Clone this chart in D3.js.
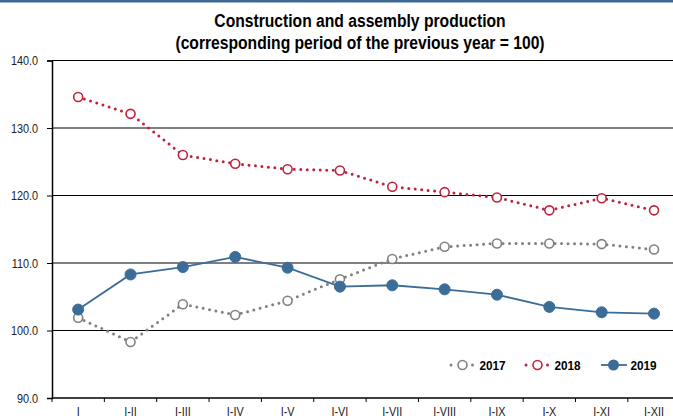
<!DOCTYPE html>
<html>

<head>
    <style>
        body { margin: 0; background: #fff; }
        #chart text { font-family: "Liberation Sans Narrow", "Arial Narrow", "Liberation Sans", sans-serif; }
    </style>
</head>

<body>
    <script src="https://d3js.org/d3.v7.min.js"></script>
    <div id="chart"></div>
    <script>
        const width = 673
        const height = 419

        const periods = ["I", "I-II", "I-III", "I-IV", "I-V", "I-VI", "I-VII", "I-VIII", "I-IX", "I-X", "I-XI", "I-XII"]
        const values2017 = [101.9, 98.3, 103.9, 102.3, 104.4, 107.6, 110.6, 112.4, 112.9, 112.9, 112.8, 112.0]
        const values2018 = [134.6, 132.1, 126.0, 124.7, 123.9, 123.7, 121.3, 120.5, 119.7, 117.8, 119.6, 117.8]
        const values2019 = [103.1, 108.3, 109.4, 110.9, 109.3, 106.5, 106.7, 106.1, 105.3, 103.5, 102.7, 102.5]
        const yTicks = [90, 100, 110, 120, 130, 140]

        const series = [
            { name: "2017", values: values2017, color: "#808080", dotted: true, filled: false },
            { name: "2018", values: values2018, color: "#c0223b", dotted: true, filled: false },
            { name: "2019", values: values2019, color: "#3c6c98", dotted: false, filled: true }
        ]

        const plotLeft = 52
        const plotTop = 60.5
        const plotBottom = 398
        // no narrow font installed, so squeeze text horizontally
        const squeeze = "scale(0.87,1)"

        const svg = d3.select("#chart").append("svg")
            .attr("width", width).attr("height", height)

        // blue band on top
        svg.append("rect").attr("x", 0).attr("y", 0).attr("width", width).attr("height", 2.5)
            .attr("fill", "#3d6a94")

        const titleLines = ["Construction and assembly production", "(corresponding period of the previous year = 100)"]
        titleLines.forEach((t, i) => {
            svg.append("g").attr("transform", "translate(360," + (27 + i * 22) + ")")
                .append("text")
                .attr("transform", squeeze)
                .attr("text-anchor", "middle")
                .attr("font-weight", "bold")
                .attr("font-size", 18)
                .attr("fill", "#000")
                .text(t)
        })

        const xScale = d3.scaleBand()
            .domain(periods)
            .range([plotLeft, plotLeft + 12 * 52.35])

        const yScale = d3.scaleLinear()
            .domain([90, 140])
            .range([plotBottom, plotTop])

        // gridlines
        svg.append("g").selectAll("line")
            .data(yTicks.filter(d => d > 90))
            .enter().append("line")
            .attr("x1", plotLeft).attr("x2", width)
            .attr("y1", d => yScale(d)).attr("y2", d => yScale(d))
            .attr("stroke", "#000").attr("stroke-width", 1)

        const yAxis = d3.axisLeft(yScale).tickValues(yTicks).tickFormat(d3.format(".1f")).tickSize(5).tickPadding(11)
        const gy = svg.append("g").attr("transform", "translate(" + plotLeft + ",0)").call(yAxis)
        gy.select(".domain").attr("stroke", "#000").attr("stroke-width", 1.5)
        gy.selectAll("text").attr("font-size", 12.5).attr("fill", "#222").attr("transform", squeeze)

        const xAxis = d3.axisBottom(xScale).tickSize(0).tickPadding(9)
        const gx = svg.append("g").attr("transform", "translate(0," + plotBottom + ")").call(xAxis)
        gx.select(".domain").remove()
        gx.selectAll("text").attr("font-size", 12.5).attr("fill", "#222").attr("transform", squeeze)

        svg.append("line").attr("x1", plotLeft).attr("x2", width)
            .attr("y1", plotBottom).attr("y2", plotBottom)
            .attr("stroke", "#000").attr("stroke-width", 1.5)

        // category separators on x axis
        svg.append("g").selectAll("line")
            .data(periods)
            .enter().append("line")
            .attr("x1", d => xScale(d)).attr("x2", d => xScale(d))
            .attr("y1", plotBottom).attr("y2", plotBottom + 4)
            .attr("stroke", "#000").attr("stroke-width", 1)

        const cx = d => xScale(d) + xScale.bandwidth() / 2
        const line = d3.line().x((d, i) => cx(periods[i])).y(d => yScale(d))

        series.forEach(s => {
            svg.append("path")
                .datum(s.values)
                .attr("d", line)
                .attr("fill", "none")
                .attr("stroke", s.color)
                .attr("stroke-width", s.dotted ? 3 : 1.8)
                .attr("stroke-linecap", s.dotted ? "round" : "butt")
                .attr("stroke-dasharray", s.dotted ? "0,6.5" : null)

            svg.append("g").selectAll("circle")
                .data(s.values)
                .enter().append("circle")
                .attr("cx", (d, i) => cx(periods[i]))
                .attr("cy", d => yScale(d))
                .attr("r", s.filled ? 5.5 : 4.5)
                .attr("fill", s.filled ? s.color : "#fff")
                .attr("stroke", s.color)
                .attr("stroke-width", s.filled ? 1 : 1.6)
        })

        // legend
        const legendY = 365
        const legendX = [451, 526, 601]
        series.forEach((s, i) => {
            const g = svg.append("g").attr("transform", "translate(" + legendX[i] + "," + legendY + ")")
            if (s.dotted) {
                g.append("circle").attr("cx", 0).attr("cy", 0).attr("r", 1.5).attr("fill", s.color)
                g.append("circle").attr("cx", 21.5).attr("cy", 0).attr("r", 1.5).attr("fill", s.color)
                g.append("circle").attr("cx", 11.5).attr("cy", 0).attr("r", 4.5)
                    .attr("fill", "#fff").attr("stroke", s.color).attr("stroke-width", 1.6)
            } else {
                g.append("line").attr("x1", 0).attr("x2", 26).attr("y1", 0).attr("y2", 0)
                    .attr("stroke", s.color).attr("stroke-width", 1.8)
                g.append("circle").attr("cx", 12.5).attr("cy", 0).attr("r", 5.5).attr("fill", s.color)
            }
            g.append("g").attr("transform", "translate(" + (s.dotted ? 28.5 : 29.5) + ",5)")
                .append("text")
                .attr("transform", squeeze)
                .attr("font-size", 13.5)
                .attr("font-weight", "bold")
                .attr("fill", "#000")
                .text(s.name)
        })
    </script>
</body>

</html>
